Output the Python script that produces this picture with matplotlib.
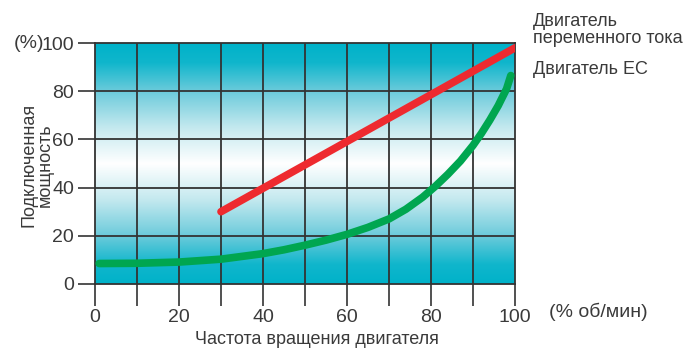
import numpy as np
import matplotlib
matplotlib.use("Agg")
import matplotlib.pyplot as plt
from matplotlib.colors import LinearSegmentedColormap
from matplotlib import font_manager

fams = {f.name for f in font_manager.fontManager.ttflist}
FONT = "Liberation Sans Narrow" if "Liberation Sans Narrow" in fams else "Liberation Sans"
plt.rcParams['font.family'] = [FONT, 'DejaVu Sans']

# Data
ac_x = [30, 100]
ac_y = [30, 98]
ec_x = [1, 10, 20, 30, 40, 45, 50, 55, 60, 65, 70, 74, 78, 81, 84, 87, 90, 92, 94, 96, 98, 99]
ec_y = [8.5, 8.6, 9.1, 10.3, 12.6, 14.2, 16.1, 18.2, 20.6, 23.5, 27.0, 31.0, 36.0, 40.5, 45.5, 51.0, 57.5, 62.5, 68.0, 74.0, 81.0, 86.5]
xticks = [0, 20, 40, 60, 80, 100]
yticks = [0, 20, 40, 60, 80, 100]
legend_labels = ["Двигатель\nпеременного тока", "Двигатель ЕС"]

TXT = "#3a3a3a"
fig = plt.figure(figsize=(6.95, 3.49), dpi=100)
ax = fig.add_axes([95/695, 1-284/349, 420/695, 241/349])

cmap = LinearSegmentedColormap.from_list("g", [
    (0.0, "#00b2c9"), (0.08, "#10b6cc"), (0.2, "#6ccbdb"), (0.35, "#c4e9ef"),
    (0.5, "#ffffff"), (0.65, "#c4e9ef"), (0.8, "#6ccbdb"), (0.92, "#10b6cc"), (1.0, "#00b2c9")])
grad = np.linspace(0, 1, 256).reshape(-1, 1)
ax.imshow(grad, extent=[0, 100, 0, 100], aspect='auto', cmap=cmap, origin='lower', zorder=0)

for x in range(10, 100, 10):
    ax.axvline(x, color="#333333", lw=1.3, zorder=1)
for y in range(20, 100, 20):
    ax.axhline(y, color="#333333", lw=1.3, zorder=1)

ax.plot(ec_x, ec_y, color="#00a650", lw=5.5, solid_capstyle='round', solid_joinstyle='round', zorder=3)
ax.plot(ac_x, ac_y, color="#ee2a2f", lw=5.5, solid_capstyle='round', zorder=4)

ax.set_xlim(0, 100)
ax.set_ylim(0, 100)
for s in ax.spines.values():
    s.set_color("#333333")
    s.set_linewidth(1.3)
ax.set_xticks(range(0, 101, 10))
ax.set_xticklabels([str(v) if v in xticks else "" for v in range(0, 101, 10)])
ax.set_yticks(yticks)
ax.tick_params(axis='x', length=16, width=1.2, color="#333333", labelsize=14, labelcolor=TXT, pad=2)
ax.tick_params(axis='y', length=12, width=1.2, color="#333333", labelsize=14, labelcolor=TXT, pad=3)

ax.text(-12, 100, "(%)", fontsize=14, color=TXT, ha='right', va='center', transform=ax.transData, clip_on=False)
fig.text(37/695, 1-165/349, "Подключенная\nмощность", rotation=90, fontsize=13, color=TXT,
         ha='center', va='center', linespacing=0.95)
fig.text(317/695, 1-340/349, "Частота вращения двигателя", fontsize=13, color=TXT, ha='center', va='center')
fig.text(549/695, 1-312/349, "(% об/мин)", fontsize=14, color=TXT, ha='left', va='center')
fig.text(533/695, 1-30/349, legend_labels[0], fontsize=13, color=TXT, ha='left', va='center', linespacing=0.95)
fig.text(533/695, 1-69/349, legend_labels[1], fontsize=13, color=TXT, ha='left', va='center')

fig.savefig("out.png", dpi=100)
